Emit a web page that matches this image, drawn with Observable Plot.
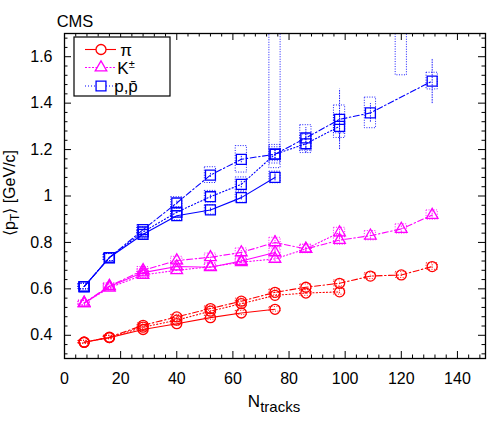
<!DOCTYPE html>
<html><head><meta charset="utf-8">
<script src="https://cdn.jsdelivr.net/npm/d3@7"></script>
<script src="https://cdn.jsdelivr.net/npm/@observablehq/plot@0.6"></script>
<style>html,body{margin:0;padding:0;background:#fff;}</style>
</head><body><div id="chart"></div>
<script>
// ---------- tick labels ----------
const xTickLabels = [0, 20, 40, 60, 80, 100, 120, 140];
const yTickLabels = [0.4, 0.6, 0.8, 1, 1.2, 1.4, 1.6];

// ---------- N_tracks bin centres ----------
const xN_09  = [7, 16, 28, 40, 52, 63, 75];
const xN_276 = [7, 16, 28, 40, 52, 63, 75, 86, 98];
const xN_7   = [7, 16, 28, 40, 52, 63, 75, 86, 98, 109, 120, 131];
const xN_7p  = [7, 16, 28, 40, 52, 63, 75, 86, 98, 109, 131];

// ---------- pions ----------
const pi_09      = [0.370, 0.390, 0.425, 0.450, 0.476, 0.496, 0.512];
const pi_09_sys  = [0.006, 0.007, 0.008, 0.008, 0.009, 0.009, 0.010];
const pi_09_stat = [0, 0, 0, 0, 0, 0, 0.004];
const pi_276      = [0.370, 0.390, 0.435, 0.465, 0.504, 0.536, 0.572, 0.582, 0.587];
const pi_276_sys  = [0.006, 0.007, 0.008, 0.009, 0.010, 0.010, 0.011, 0.012, 0.012];
const pi_276_stat = [0, 0, 0, 0, 0, 0, 0.004, 0.006, 0.008];
const pi_7      = [0.370, 0.392, 0.443, 0.479, 0.515, 0.547, 0.585, 0.607, 0.624, 0.655, 0.660, 0.696];
const pi_7_sys  = [0.006, 0.007, 0.008, 0.009, 0.010, 0.011, 0.012, 0.012, 0.013, 0.013, 0.013, 0.014];
const pi_7_stat = [0, 0, 0, 0, 0, 0, 0.004, 0.005, 0.006, 0.006, 0.007, 0.008];

// ---------- kaons ----------
const K_09      = [0.538, 0.610, 0.670, 0.696, 0.693, 0.720, 0.757];
const K_09_sys  = [0.010, 0.012, 0.014, 0.015, 0.015, 0.016, 0.017];
const K_09_stat = [0, 0, 0, 0, 0.004, 0.006, 0.012];
const K_276      = [0.538, 0.605, 0.660, 0.680, 0.695, 0.715, 0.729, 0.772, 0.843];
const K_276_sys  = [0.010, 0.012, 0.014, 0.015, 0.016, 0.016, 0.018, 0.018, 0.020];
const K_276_stat = [0, 0, 0, 0, 0.004, 0.006, 0.012, 0.012, 0.025];
const K_7      = [0.540, 0.612, 0.680, 0.722, 0.736, 0.757, 0.800, 0.772, 0.810, 0.829, 0.858, 0.918];
const K_7_sys  = [0.010, 0.012, 0.014, 0.016, 0.016, 0.017, 0.020, 0.018, 0.020, 0.020, 0.020, 0.020];
const K_7_stat = [0, 0, 0, 0.004, 0.006, 0.008, 0.030, 0.012, 0.020, 0.015, 0.015, 0.020];

// ---------- protons ----------
const p_09      = [0.610, 0.735, 0.835, 0.915, 0.940, 0.993, 1.080];
const p_09_sys  = [0.012, 0.015, 0.018, 0.020, 0.020, 0.022, 0.025];
const p_09_stat = [0, 0, 0, 0.005, 0.008, 0.010, 0.015];
const p_276      = [0.610, 0.735, 0.845, 0.930, 0.997, 1.050, 1.180, 1.225, 1.300];
const p_276_sys  = [0.012, 0.015, 0.020, 0.022, 0.025, 0.030, 0.030, 0.040, 0.050];
const p_276_stat = [0, 0, 0, 0.006, 0.010, 0.015, 0.020, 0.040, 0.060];
const p_7      = [0.610, 0.735, 0.855, 0.970, 1.090, 1.158, 1.180, 1.250, 1.330, 1.358, 1.495];
const p_7_sys  = [0.012, 0.015, 0.020, 0.025, 0.034, 0.057, 0.040, 0.055, 0.060, 0.066, 0.036];
const p_7_stat = [0, 0, 0.006, 0.008, 0.010, 0.015, 0.020, 0.045, 0.130, 0.040, 0.097];

// systematic boxes that run off the top of the frame
const tallBoxX    = [75, 120];
const tallBoxLow  = [1.12, 1.52];
const tallBoxHigh = [1.95, 1.95];
const tallBoxColor = "#0000ff";

// ---------- styling ----------
const RED = "#ff0000", MAG = "#ff00ff", BLUE = "#0000ff";
const dashFor = {"0.9": null, "2.76": "1.2,2.2", "7": "6,2.5,1.5,2.5"};
const FONT = "'Liberation Sans', Arial, Helvetica, sans-serif";

const series = [
  {e:"0.9",  c:RED,  s:"circle",   r:5,   x:xN_09,  y:pi_09,  sys:pi_09_sys,  stat:pi_09_stat},
  {e:"2.76", c:RED,  s:"circle",   r:5,   x:xN_276, y:pi_276, sys:pi_276_sys, stat:pi_276_stat},
  {e:"7",    c:RED,  s:"circle",   r:5,   x:xN_7,   y:pi_7,   sys:pi_7_sys,   stat:pi_7_stat},
  {e:"0.9",  c:MAG,  s:"triangle", r:4.3, x:xN_09,  y:K_09,   sys:K_09_sys,   stat:K_09_stat},
  {e:"2.76", c:MAG,  s:"triangle", r:4.3, x:xN_276, y:K_276,  sys:K_276_sys,  stat:K_276_stat},
  {e:"7",    c:MAG,  s:"triangle", r:4.3, x:xN_7,   y:K_7,    sys:K_7_sys,    stat:K_7_stat},
  {e:"0.9",  c:BLUE, s:"square",   r:5.6, x:xN_09,  y:p_09,   sys:p_09_sys,   stat:p_09_stat},
  {e:"2.76", c:BLUE, s:"square",   r:5.6, x:xN_276, y:p_276,  sys:p_276_sys,  stat:p_276_stat},
  {e:"7",    c:BLUE, s:"square",   r:5.6, x:xN_7p,  y:p_7,    sys:p_7_sys,    stat:p_7_stat}
];

const W = 500, H = 422, mL = 64, mR = 15, mT = 33, mB = 64;
const iw = W - mL - mR, ih = H - mT - mB;
const BOXW = 2; // half width of systematic boxes in N_tracks units

const marks = [];
for (const s of series) {
  const rows = s.x.map((x, i) => ({x, y: s.y[i], sys: s.sys[i], stat: s.stat[i]}));
  marks.push(Plot.rect(rows, {x1: d => d.x - BOXW, x2: d => d.x + BOXW, y1: d => d.y - d.sys, y2: d => d.y + d.sys,
    stroke: s.c, fill: "none", strokeWidth: 0.9, strokeDasharray: "1,1.5", clip: true}));
}
const tallRows = tallBoxX.map((x, i) => ({x, lo: tallBoxLow[i], hi: tallBoxHigh[i]}));
marks.push(Plot.rect(tallRows, {x1: d => d.x - BOXW, x2: d => d.x + BOXW, y1: "lo", y2: "hi",
  stroke: tallBoxColor, fill: "none", strokeWidth: 0.9, strokeDasharray: "1,1.5", clip: true}));
for (const s of series) {
  const rows = s.x.map((x, i) => ({x, y: s.y[i], stat: s.stat[i]})).filter(d => d.stat > 0.005);
  marks.push(Plot.ruleX(rows, {x: "x", y1: d => d.y - d.stat, y2: d => d.y + d.stat, stroke: s.c, strokeWidth: 0.9,
    strokeDasharray: s.e === "0.9" ? null : "1.5,1", clip: true}));
}
for (const s of series) {
  const rows = s.x.map((x, i) => ({x, y: s.y[i]}));
  marks.push(Plot.line(rows, {x: "x", y: "y", stroke: s.c, strokeWidth: 1.1, strokeDasharray: dashFor[s.e], clip: true}));
}
for (const s of series) {
  const rows = s.x.map((x, i) => ({x, y: s.y[i]}));
  marks.push(Plot.dot(rows, {x: "x", y: "y", symbol: s.s, r: s.r, stroke: s.c, fill: "none", strokeWidth: 1.3, clip: true}));
}

// ticks (inward, on all four sides)
const xMinor = d3.range(0, 150.1, 4).filter(v => v % 20 !== 0);
const yMinor = d3.range(0.32, 1.7, 0.04).map(v => +v.toFixed(2)).filter(v => Math.abs(v * 5 - Math.round(v * 5)) > 1e-6);
const MAJ = 7, MIN = 3.5;
marks.push(
  Plot.tickX(xTickLabels, {x: d => d, insetTop: ih - MAJ, stroke: "black"}),
  Plot.tickX(xTickLabels, {x: d => d, insetBottom: ih - MAJ, stroke: "black"}),
  Plot.tickX(xMinor, {x: d => d, insetTop: ih - MIN, stroke: "black"}),
  Plot.tickX(xMinor, {x: d => d, insetBottom: ih - MIN, stroke: "black"}),
  Plot.tickY(yTickLabels, {y: d => d, insetRight: iw - MAJ, stroke: "black"}),
  Plot.tickY(yTickLabels, {y: d => d, insetLeft: iw - MAJ, stroke: "black"}),
  Plot.tickY(yMinor, {y: d => d, insetRight: iw - MIN, stroke: "black"}),
  Plot.tickY(yMinor, {y: d => d, insetLeft: iw - MIN, stroke: "black"}),
  Plot.axisX({ticks: xTickLabels, tickSize: 0, tickPadding: 14, label: null, fontSize: 16, tickFormat: d => String(d)}),
  Plot.axisY({ticks: yTickLabels, tickSize: 0, tickPadding: 12, label: null, fontSize: 16, tickFormat: d => String(d)}),
  Plot.frame({stroke: "black", strokeWidth: 1.3})
);

const chart = Plot.plot({
  width: W, height: H,
  marginLeft: mL, marginRight: mR, marginTop: mT, marginBottom: mB,
  x: {domain: [0, 150]},
  y: {domain: [0.3, 1.7]},
  style: {fontFamily: FONT, fontSize: "16px", background: "white", color: "black"},
  marks
});
document.getElementById("chart").appendChild(chart);

// ---------- text annotations & legend ----------
const svg = d3.select(chart);
svg.append("text").attr("x", 75).attr("y", 26.5).attr("font-family", FONT).attr("font-size", 16.5).attr("fill", "black").text("CMS");

const xl = svg.append("text").attr("x", 274).attr("y", 407).attr("text-anchor", "middle")
  .attr("font-family", FONT).attr("font-size", 17).attr("fill", "black");
xl.append("tspan").text("N");
xl.append("tspan").attr("font-size", 15).attr("dy", 4.5).text("tracks");

const yl = svg.append("text").attr("transform", "translate(14.5,193) rotate(-90)").attr("text-anchor", "middle")
  .attr("font-family", FONT).attr("font-size", 16).attr("fill", "black");
yl.append("tspan").text("\u27E8p");
yl.append("tspan").attr("font-size", 12).attr("dy", 4).text("T");
yl.append("tspan").attr("dy", -4).text("\u27E9 [GeV/c]");

const lg = svg.append("g");
lg.append("rect").attr("x", 74).attr("y", 37).attr("width", 96).attr("height", 59)
  .attr("fill", "white").attr("stroke", "black").attr("stroke-width", 1.2);
const legendItems = [
  {c: RED,  sym: d3.symbolCircle,   size: Math.PI * 25,  dash: null,      y: 49.5, label: "\u03C0"},
  {c: MAG,  sym: d3.symbolTriangle, size: Math.PI * 18.5, dash: "2,1.5",  y: 67.5, label: "K"},
  {c: BLUE, sym: d3.symbolSquare,   size: Math.PI * 31,  dash: "1,2",     y: 86,   label: "p,p\u0304"}
];
for (const it of legendItems) {
  lg.append("line").attr("x1", 85).attr("x2", 116).attr("y1", it.y).attr("y2", it.y)
    .attr("stroke", it.c).attr("stroke-width", 1.1).attr("stroke-dasharray", it.dash);
  lg.append("path").attr("d", d3.symbol(it.sym, it.size)()).attr("transform", `translate(101,${it.y})`)
    .attr("fill", "white").attr("stroke", it.c).attr("stroke-width", 1.3);
  const t = lg.append("text").attr("x", 126).attr("y", it.y + 6).attr("font-family", FONT)
    .attr("font-size", 17).attr("fill", "black").text(it.label);
  if (it.label === "K") t.append("tspan").attr("font-size", 11).attr("dy", -5.5).text("\u00B1");
}
</script>
</body></html>
